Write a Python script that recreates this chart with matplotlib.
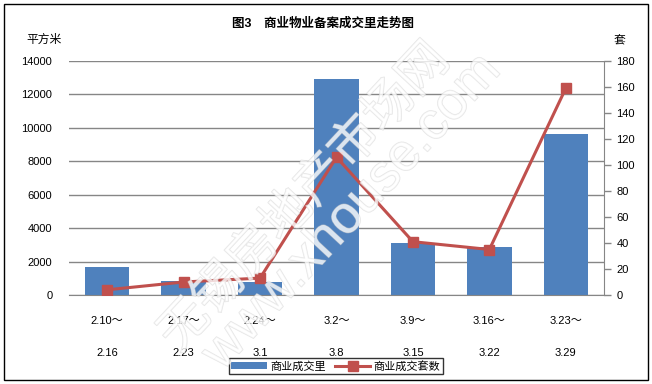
import numpy as np
import matplotlib
matplotlib.use("Agg")
from matplotlib import pyplot as plt
from matplotlib.patches import Rectangle
import matplotlib.patheffects as pe

plt.rcParams['font.family'] = ['Liberation Sans', 'Noto Sans CJK SC', 'DejaVu Sans']

# data
weeks_start = ["2.10～", "2.17～", "2.24～", "3.2～", "3.9～", "3.16～", "3.23～"]
weeks_end = ["2.16", "2.23", "3.1", "3.8", "3.15", "3.22", "3.29"]
area = [1700, 840, 790, 12930, 3110, 2870, 9640]   # 平方米
units = [4, 10, 13, 106, 41, 35, 159]               # 套

BLUE = "#4F81BD"
RED = "#C0504D"
GRID = "#868686"

fig = plt.figure(figsize=(6.52, 3.84), dpi=100)
ax = fig.add_axes([69/652, 1-295/384, 535/652, 234/384])
ax2 = ax.twinx()

x = np.arange(len(area))
bars = ax.bar(x, area, width=0.58, color=BLUE, zorder=2, label="商业成交里")
line, = ax2.plot(x, units, color=RED, lw=2.2, marker="s", ms=7, zorder=3, label="商业成交套数")

ax.set_xlim(-0.5, len(area) - 0.5)
ax.set_ylim(0, 14000)
ax.set_yticks(np.arange(0, 14001, 2000))
ax2.set_ylim(0, 180)
ax2.set_yticks(np.arange(0, 181, 20))

ax.grid(axis="y", color=GRID, lw=1, zorder=0)
ax.set_axisbelow(True)
for s in ["top", "left", "right"]:
    ax.spines[s].set_visible(False)
for s in ["top", "left", "bottom"]:
    ax2.spines[s].set_visible(False)
ax.spines["bottom"].set_color(GRID)
ax2.spines["right"].set_color(GRID)

ax.set_xticks(x)
ax.set_xticklabels([a + "\n\n" + b for a, b in zip(weeks_start, weeks_end)], fontsize=8, linespacing=1.75)
ax.tick_params(axis="x", length=0, pad=15)
ax.tick_params(axis="y", length=0, pad=12, labelsize=8)
ax2.tick_params(axis="y", length=5, width=1, color=GRID, pad=4, labelsize=8)

# ax2 on top of bars, keep bars visible
ax.set_zorder(1)
ax2.set_zorder(2)
ax.patch.set_visible(False)
ax2.patch.set_visible(False)

fig.text(323/652, 1-24/384, "图3　商业物业备案成交里走势图", ha="center", va="center",
         fontsize=9, fontweight="bold")
fig.text(44/652, 1-40/384, "平方米", ha="center", va="center", fontsize=8.5)
fig.text(619/652, 1-41/384, "套", ha="center", va="center", fontsize=8.5)

leg = fig.legend(handles=[bars, line], loc="center", bbox_to_anchor=(336/652, 1-366/384),
                 ncol=2, fontsize=8, frameon=True, fancybox=False, edgecolor="black",
                 borderpad=0.25, handlelength=3.2, handletextpad=0.3, columnspacing=0.8,
                 borderaxespad=0)
leg.get_frame().set_linewidth(1)

# watermark (outlined, very light)
wm = [pe.withStroke(linewidth=0.9, foreground="#d0d0d0")]
fig.text(305/652, 1-198/384, "无锡房地产市场网", rotation=47, ha="center", va="center",
         fontsize=36, fontweight="light", color="white", alpha=0.55, path_effects=wm, zorder=10)
fig.text(352/652, 1-212/384, "www.xhouse.com", rotation=47, ha="center", va="center",
         fontsize=38, color="white", alpha=0.55, path_effects=wm, zorder=10)

fig.patches.append(Rectangle((4/652, 4/384), 644/652, 376/384, transform=fig.transFigure,
                             fill=False, edgecolor="black", lw=1))

fig.savefig("out.png", dpi=100)
